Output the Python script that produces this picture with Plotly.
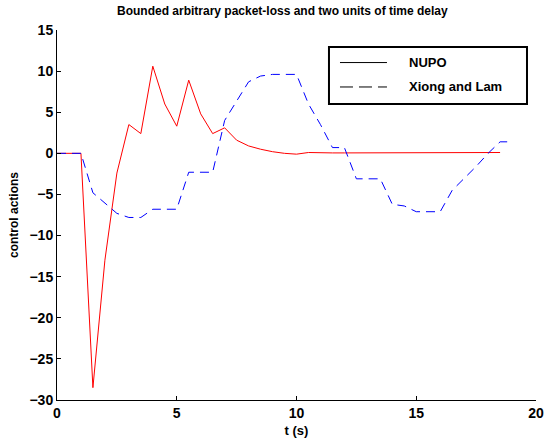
import plotly.graph_objects as go

t_nupo = [0, 0.5, 1, 1.5, 2, 2.5, 3, 3.5, 4, 4.5, 5, 5.5, 6, 6.5, 7, 7.5, 8, 8.5, 9, 9.5,
          10, 10.5, 11, 11.5, 12, 12.5, 13, 13.5, 14, 14.5, 15, 15.5, 16, 16.5, 17, 17.5, 18, 18.5]
u_nupo = [0, 0, 0, -28.5, -13.0, -2.4, 3.5, 2.4, 10.6, 6.0, 3.3, 8.9, 4.8, 2.4, 3.1, 1.6, 0.9, 0.5, 0.2, 0.0,
          -0.1, 0.1, 0.05, 0.05, 0.05, 0.05, 0.05, 0.05, 0.05, 0.05, 0.1, 0.1, 0.1, 0.1, 0.1, 0.1, 0.1, 0.1]

t_xl = [0, 0.5, 1, 1.5, 2, 2.5, 3, 3.5, 4, 4.5, 5, 5.5, 6, 6.5, 7, 7.5, 8, 8.5, 9, 9.5,
        10, 10.5, 11, 11.5, 12, 12.5, 13, 13.5, 14, 14.5, 15, 15.5, 16, 16.5, 17, 17.5, 18, 18.5, 19]
u_xl = [0, 0, 0, -4.8, -6.0, -7.3, -7.8, -7.8, -6.8, -6.8, -6.8, -2.3, -2.3, -2.3, 4.0, 6.3, 8.7, 9.4, 9.6, 9.6,
        9.6, 6.0, 3.5, 0.7, 0.7, -3.1, -3.1, -3.1, -6.2, -6.4, -7.1, -7.1, -7.1, -4.5, -3.1, -1.6, 0.0, 1.4, 1.4]

series_names = ["NUPO", "Xiong and Lam"]
x_ticks = [0, 5, 10, 15, 20]
y_ticks = [15, 10, 5, 0, -5, -10, -15, -20, -25, -30]

FONT = "Liberation Sans, Arial, sans-serif"
DASH = "9px,6px"

fig = go.Figure()
fig.add_trace(go.Scatter(x=t_nupo, y=u_nupo, mode="lines", name=series_names[0],
                         line=dict(color="#ff0000", width=1), showlegend=False, hoverinfo="skip"))
fig.add_trace(go.Scatter(x=t_xl, y=u_xl, mode="lines", name=series_names[1],
                         line=dict(color="#0000ff", width=1, dash=DASH), showlegend=False, hoverinfo="skip"))

axis_common = dict(showline=True, linecolor="black", linewidth=1, ticks="inside", ticklen=4,
                   tickcolor="black", showgrid=False, zeroline=False, mirror=False, automargin=False,
                   tickfont=dict(family=FONT, size=14, color="black", weight="bold"))

# Legend box drawn as in the reference (black sample lines)
shapes = [
    dict(type="rect", xref="paper", yref="paper", x0=0.5678, x1=0.9812, y0=0.800, y1=0.954,
         line=dict(color="black", width=2), fillcolor="white", layer="above"),
    dict(type="line", xref="paper", yref="paper", x0=0.5908, x1=0.6889, y0=0.912, y1=0.912,
         line=dict(color="black", width=1), layer="above"),
    dict(type="line", xref="paper", yref="paper", x0=0.5908, x1=0.6889, y0=0.846, y1=0.846,
         line=dict(color="black", width=1, dash="13px,6px"), layer="above"),
]
annotations = [
    dict(text=series_names[0], xref="paper", yref="paper", x=0.7307, y=0.912, xanchor="left",
         yanchor="middle", showarrow=False, font=dict(family=FONT, size=13, color="black", weight="bold")),
    dict(text=series_names[1], xref="paper", yref="paper", x=0.7307, y=0.846, xanchor="left",
         yanchor="middle", showarrow=False, font=dict(family=FONT, size=13, color="black", weight="bold")),
]

fig.update_layout(
    width=544, height=441,
    margin=dict(l=57, r=8, t=30, b=41),
    paper_bgcolor="white", plot_bgcolor="white",
    showlegend=False,
    title=dict(text="Bounded arbitrary packet-loss and two units of time delay",
               x=0.519, xanchor="center", y=0.985, yanchor="top",
               font=dict(family=FONT, size=12, color="black", weight="bold")),
    xaxis=dict(range=[0, 20], tickvals=x_ticks, **axis_common,
               title=dict(text="t (s)", standoff=6,
                          font=dict(family=FONT, size=13, color="black", weight="bold"))),
    yaxis=dict(range=[-30, 15], tickvals=y_ticks, **axis_common,
               title=dict(text="control actions", standoff=8,
                          font=dict(family=FONT, size=12, color="black", weight="bold"))),
    shapes=shapes,
    annotations=annotations,
)

fig.write_html("out.html")
